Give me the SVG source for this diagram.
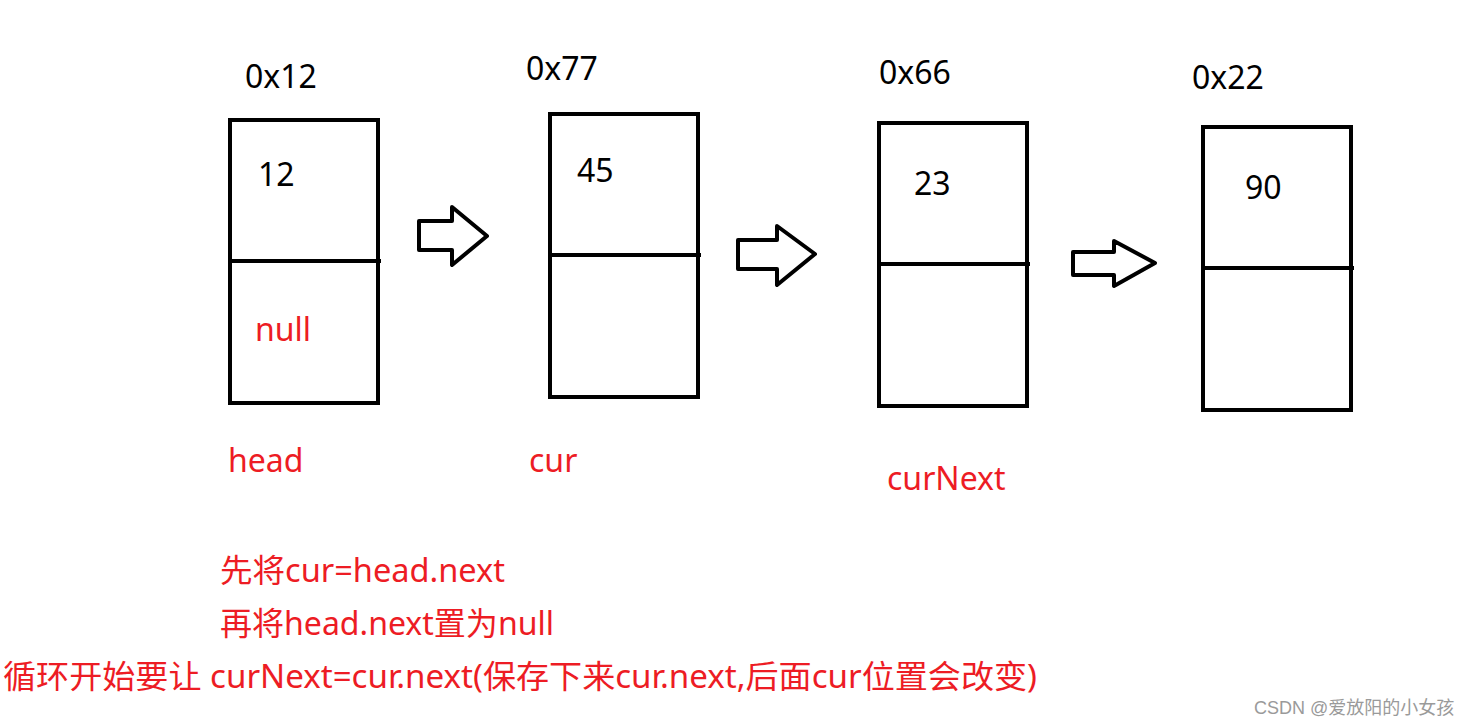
<svg xmlns="http://www.w3.org/2000/svg" width="1480" height="727" viewBox="0 0 1480 727">
<style>
.box{fill:none;stroke:#000;stroke-width:4}
.div{stroke:#000;stroke-width:4}
.arr{fill:#fff;stroke:#000;stroke-width:4;stroke-linejoin:round}
text{font-family:"Noto Sans","Noto Sans CJK SC",sans-serif;font-size:32px}
.k{fill:#000}
.r{fill:#ed1c24}
.wm{fill:#9a9a9a;font-size:18px;font-family:"Liberation Sans","Noto Sans CJK SC",sans-serif}
</style>
<rect width="1480" height="727" fill="#fff"/>
<g id="node1">
<rect class="box" x="230" y="120" width="148" height="283"/>
<line class="div" x1="230" y1="261" x2="381" y2="261"/>
<text class="k" x="245" y="88">0x12</text>
<text class="k" x="258" y="186">12</text>
<text class="r" x="255" y="341">null</text>
<text class="r" x="228" y="472">head</text>
</g>
<g id="node2">
<rect class="box" x="550" y="114" width="148" height="283"/>
<line class="div" x1="550" y1="255" x2="701" y2="255"/>
<text class="k" x="526" y="80">0x77</text>
<text class="k" x="577" y="182">45</text>
<text class="r" x="529" y="472">cur</text>
</g>
<g id="node3">
<rect class="box" x="879" y="123" width="148" height="283"/>
<line class="div" x1="879" y1="264" x2="1030" y2="264"/>
<text class="k" x="879" y="84">0x66</text>
<text class="k" x="914" y="195">23</text>
<text class="r" x="887" y="490">curNext</text>
</g>
<g id="node4">
<rect class="box" x="1203" y="127" width="148" height="283"/>
<line class="div" x1="1203" y1="268" x2="1354" y2="268"/>
<text class="k" x="1192" y="89">0x22</text>
<text class="k" x="1245" y="199">90</text>
</g>
<g id="connectors">
<polygon class="arr" points="419,221 452,221 452,207 487,236 452,265 452,250 419,250"/>
<polygon class="arr" points="738,240 777,240 777,226 815,254 777,285 777,269 738,269"/>
<polygon class="arr" points="1073,252 1114,252 1114,241 1155,263 1114,286 1114,275 1073,275"/>
</g>
<g id="notes">
<text class="r" x="220" y="582" textLength="285" lengthAdjust="spacingAndGlyphs">先将cur=head.next</text>
<text class="r" x="220" y="635" textLength="334" lengthAdjust="spacingAndGlyphs">再将head.next置为null</text>
<text class="r" x="3" y="688" textLength="1034" lengthAdjust="spacingAndGlyphs">循环开始要让 curNext=cur.next(保存下来cur.next,后面cur位置会改变)</text>
</g>
<text class="wm" x="1254" y="714">CSDN @爱放阳的小女孩</text>
</svg>
